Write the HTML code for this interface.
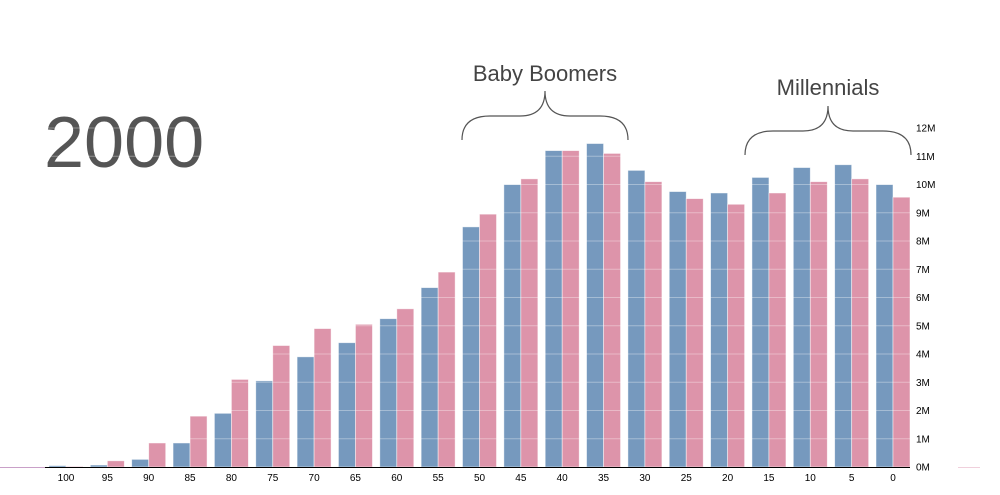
<!DOCTYPE html>
<html><head><meta charset="utf-8"><style>
html,body{margin:0;padding:0;background:#fff;}
svg{display:block;font-family:"Liberation Sans",Arial,sans-serif;}
</style></head><body>
<svg id="chart" width="1000" height="495" viewBox="0 0 1000 495">
<text x="44" y="167" font-size="72" fill="#555" font-weight="300">2000</text>
<g id="bars"></g>
<g id="grid"></g>
<g id="yaxis"></g>
<g id="xaxis"></g>
<line x1="0" y1="467.5" x2="45" y2="467.5" stroke="#c9a0c8" stroke-width="1"/>
<line x1="958" y1="467.5" x2="980" y2="467.5" stroke="#f0d0dc" stroke-width="1"/>
<line x1="45" y1="467.5" x2="910" y2="467.5" stroke="#000" stroke-width="1"/>
<g>
<text x="545" y="81" font-size="22" fill="#444" text-anchor="middle">Baby Boomers</text>
<path d="M462,140 Q462,116 490,116 L520,116 Q545,116 545,91 Q545,116 570,116 L600,116 Q628,116 628,140" fill="none" stroke="#555" stroke-width="1.2"/>
</g>
<g>
<text x="828" y="95" font-size="22" fill="#444" text-anchor="middle">Millennials</text>
<path d="M745,155 Q745,131 773,131 L803,131 Q828,131 828,106 Q828,131 853,131 L883,131 Q911,131 911,155" fill="none" stroke="#555" stroke-width="1.2"/>
</g>
</svg>
<script>
const ages = [100,95,90,85,80,75,70,65,60,55,50,45,40,35,30,25,20,15,10,5,0];
const male = [0.05,0.07,0.27,0.85,1.9,3.05,3.9,4.4,5.25,6.35,8.5,10.0,11.2,11.45,10.5,9.75,9.7,10.25,10.6,10.7,10.0];
const female = [0.02,0.22,0.85,1.8,3.1,4.3,4.9,5.05,5.6,6.9,8.95,10.2,11.2,11.1,10.1,9.5,9.3,9.7,10.1,10.2,9.55];
const yTicks = [0,1,2,3,4,5,6,7,8,9,10,11,12];
const NS='http://www.w3.org/2000/svg';
const x = a => 893 - a*8.27;
const y = v => 467 - v*28.25;
const bw = 17;
const bars=document.getElementById('bars'), grid=document.getElementById('grid'), ya=document.getElementById('yaxis'), xa=document.getElementById('xaxis');
function mk(t,attrs,p){const e=document.createElementNS(NS,t);for(const k in attrs)e.setAttribute(k,attrs[k]);p.appendChild(e);return e;}
ages.forEach((a,i)=>{
  const cx=x(a);
  const m=mk('rect',{x:cx-bw,y:y(male[i]),width:bw,height:467-y(male[i]),fill:'#7699be',stroke:'#fff','stroke-opacity':0.6,'stroke-width':0.8},bars);
  
  
  const f=mk('rect',{x:cx,y:y(female[i]),width:bw,height:467-y(female[i]),fill:'#dd94aa',stroke:'#fff','stroke-opacity':0.6,'stroke-width':0.8},bars);
  
  
  const t=mk('text',{x:cx,y:481,'font-size':10,'text-anchor':'middle',fill:'#000'},xa);
  t.textContent=a;
  
  
});
yTicks.forEach(v=>{
  if(v>0){const l=mk('line',{x1:40,x2:912,y1:y(v),y2:y(v),stroke:'#fff','stroke-opacity':0.35,'stroke-width':1},grid);
  
  }
  const t=mk('text',{x:916,y:y(v)+3.5,'font-size':10,fill:'#000'},ya);
  t.textContent=v+'M';
  
  
});
</script>
</body></html>
